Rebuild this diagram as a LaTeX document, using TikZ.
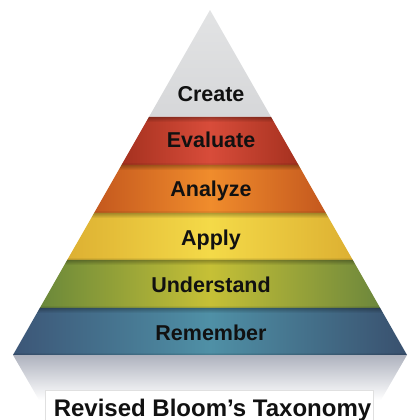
\documentclass[tikz,border=0pt]{standalone}
\usepackage{fontspec}
\setmainfont{Liberation Sans}
\usetikzlibrary{fadings}
\tikzfading[name=fadedown, top color=transparent!0, bottom color=transparent!100]
\tikzfading[name=fadeup, top color=transparent!100, bottom color=transparent!0]
\definecolor{crE}{HTML}{D6D7D9}\definecolor{crM}{HTML}{E2E3E4}
\definecolor{evE}{HTML}{A5311F}\definecolor{evM}{HTML}{D84C3A}
\definecolor{anE}{HTML}{C4581E}\definecolor{anM}{HTML}{F08C2C}
\definecolor{apE}{HTML}{DDB032}\definecolor{apM}{HTML}{F4DA48}
\definecolor{unL}{HTML}{6A883A}\definecolor{unM}{HTML}{C6C036}\definecolor{unR}{HTML}{6C873C}
\definecolor{reL}{HTML}{3C5677}\definecolor{reM}{HTML}{4F90A6}\definecolor{reR}{HTML}{39506E}
\definecolor{reflc}{HTML}{AEB2BE}
\definecolor{txt}{HTML}{111111}
\tikzset{
  lbl/.style={font=\bfseries\fontsize{21.5}{24}\selectfont, text=txt, anchor=base, inner sep=0pt},
  captiontext/.style={font=\bfseries\fontsize{24}{28}\selectfont, text=txt, anchor=base, inner sep=0pt},
  topshadow/.style={fill=black, opacity=0.28, path fading=fadedown},
  botshadow/.style={fill=black, opacity=0.18, path fading=fadeup},
}
\newcommand{\band}[6]{% #1 path, #2 left, #3 middle, #4 right, #5 topY, #6 botY
  \shade[left color=#2, right color=#4, middle color=#3] #1;
  \begin{scope}
    \clip #1;
    \fill[topshadow] (0,#5) rectangle (407,#5-5);
    \fill[botshadow] (0,#6+3) rectangle (407,#6);
  \end{scope}
}
\begin{document}
\begin{tikzpicture}[x=1pt,y=1pt]
\useasboundingbox (0,0) rectangle (407,420);
% reflection
\shade[top color=reflc, bottom color=white] (13,65) -- (407,65) -- (381,20) -- (39,20) -- cycle;
% bands
\shade[top color=crM, bottom color=crE] (210,410) -- (271.1,303) -- (148.9,303) -- cycle;
\band{(148.9,303) -- (271.1,303) -- (298.5,255) -- (121.5,255) -- cycle}{evE}{evM}{evE}{303}{255}
\band{(121.5,255) -- (298.5,255) -- (325.9,207) -- (94.1,207) -- cycle}{anE}{anM}{anE}{255}{207}
\band{(94.1,207) -- (325.9,207) -- (352.8,160) -- (67.2,160) -- cycle}{apE}{apM}{apE}{207}{160}
\band{(67.2,160) -- (352.8,160) -- (380.2,112) -- (39.8,112) -- cycle}{unL}{unM}{unR}{160}{112}
\band{(39.8,112) -- (380.2,112) -- (407,65) -- (13,65) -- cycle}{reL}{reM}{reR}{112}{65}
% labels
\node[lbl] (create) at (211,318) {Create};
\node[lbl] (evaluate) at (211,272) {Evaluate};
\node[lbl] (analyze) at (211,223.5) {Analyze};
\node[lbl] (apply) at (211,174) {Apply};
\node[lbl] (understand) at (211,127) {Understand};
\node[lbl] (remember) at (211,79) {Remember};
% caption box
\fill[white] (45,0) rectangle (373,30);
\draw[black!12, line width=0.6pt] (45,0) -- (45,30) -- (373,30) -- (373,0);
\node[captiontext] (caption) at (212.5,4) {Revised Bloom’s Taxonomy};
\end{tikzpicture}
\end{document}
